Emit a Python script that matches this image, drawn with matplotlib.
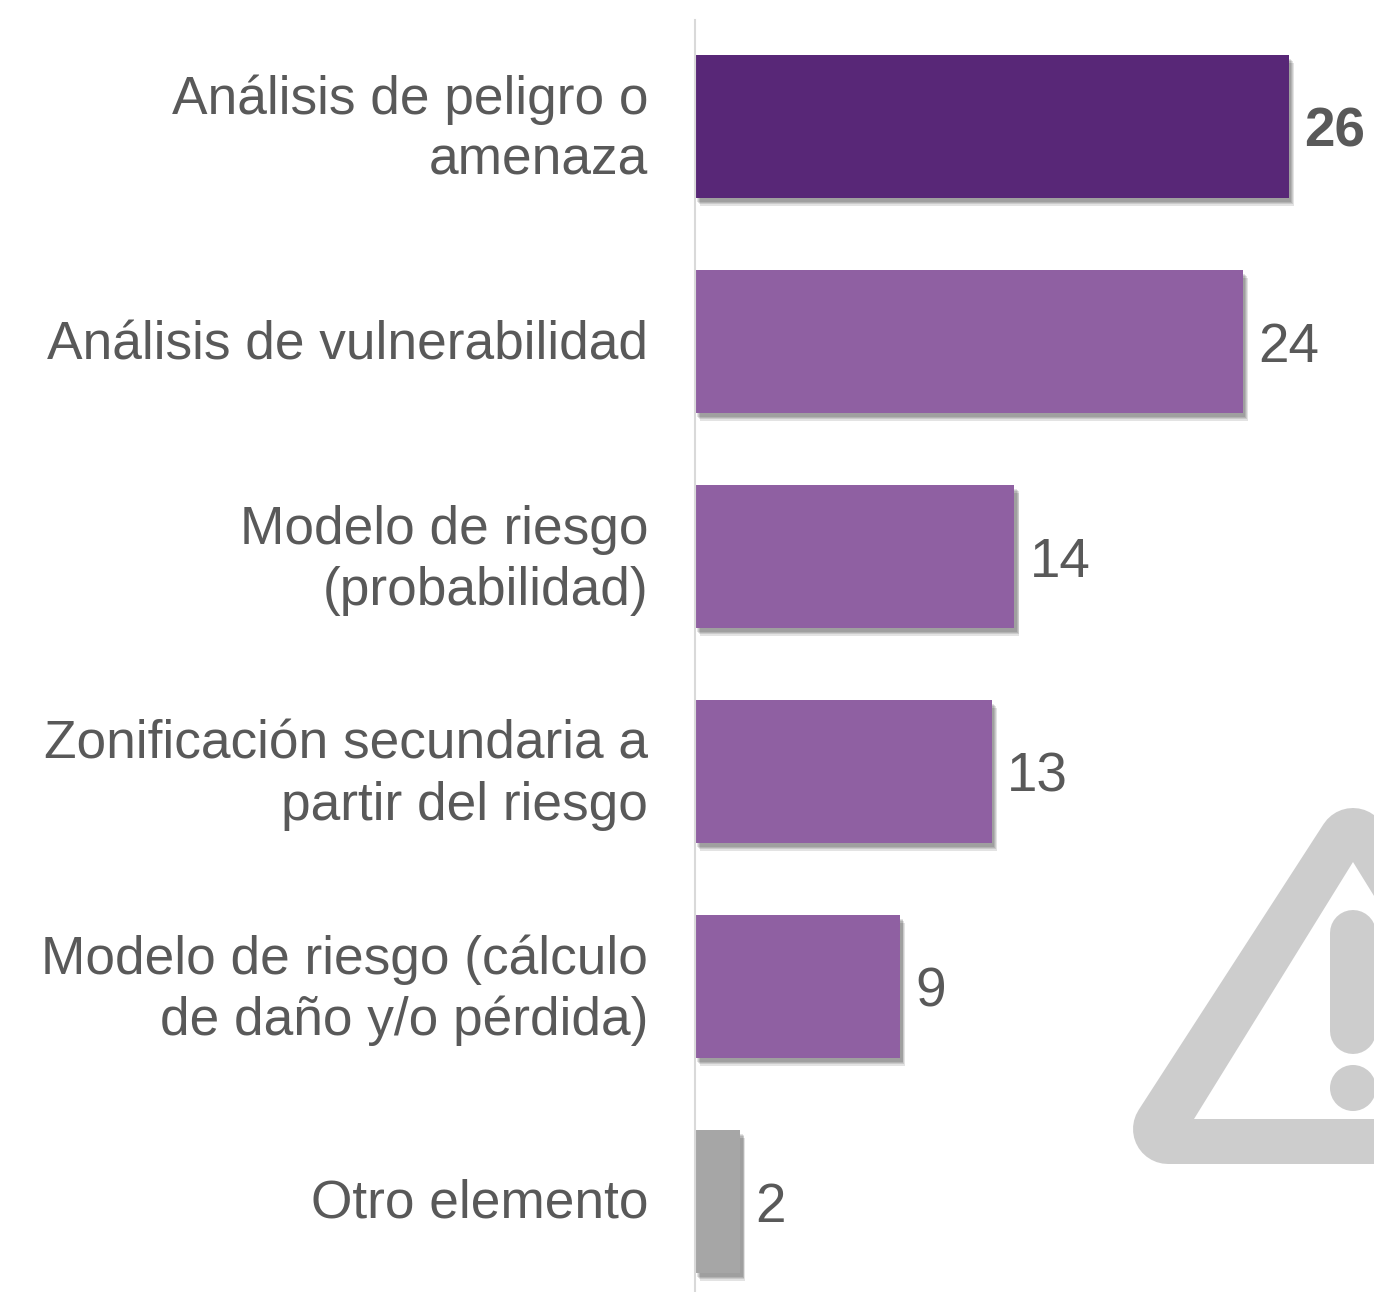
import matplotlib
matplotlib.use("Agg")
import matplotlib.pyplot as plt
import matplotlib.patheffects as pe
from matplotlib.patches import Polygon, Circle
from matplotlib.lines import Line2D
from matplotlib.transforms import ScaledTranslation

categories = ["Análisis de peligro o\namenaza", "Análisis de vulnerabilidad",
              "Modelo de riesgo\n(probabilidad)", "Zonificación secundaria a\npartir del riesgo",
              "Modelo de riesgo (cálculo\nde daño y/o pérdida)", "Otro elemento"]
values = [26, 24, 14, 13, 9, 2]
colors = ["#582777", "#8F60A2", "#8F60A2", "#8F60A2", "#8F60A2", "#A6A6A6"]

W, H = 1374, 1292
plt.rcParams['font.family'] = ['Liberation Sans', 'DejaVu Sans']
fig = plt.figure(figsize=(W/100, H/100), dpi=100)

# warning icon, in pixel coordinates, behind the chart
bg = fig.add_axes([0, 0, 1, 1])
bg.set_xlim(0, W); bg.set_ylim(H, 0); bg.axis("off")
grey = "#CDCDCD"
px = 0.72
bg.add_patch(Polygon([[1353, 843], [1168, 1129], [1538, 1129]], closed=True,
                     fc=grey, ec=grey, lw=70*px, joinstyle="round"))
bg.add_patch(Polygon([[1353, 862], [1194, 1119], [1512, 1119]], closed=True, fc="white", ec="none"))
bg.add_line(Line2D([1353, 1353], [933, 1031], color=grey, lw=46*px, solid_capstyle="round"))
bg.add_patch(Circle((1353, 1088), 23, fc=grey, ec="none"))

left = 694.5
center0 = 126.5
ax = fig.add_axes([left/W, 0, (W-left)/W, 1 - 20/H], facecolor="none")
ax.set_xlim(0, (W-left)/22.85)
ax.set_ylim((H-center0)/215.0, -(center0-20)/215.0)
shadow = [pe.SimplePatchShadow(offset=(ox, -oy), shadow_rgbFace="#000000", alpha=0.11)
          for ox, oy in ((3.6, 5.6), (3.0, 4.6), (2.4, 3.6), (1.8, 2.6))] + [pe.Normal()]
y = list(range(len(values)))
bars = ax.barh(y, values, height=143/215, color=colors, path_effects=shadow)
for i, (v, b) in enumerate(zip(values, bars)):
    ax.annotate(str(v), (v, i), xytext=(15.5, -6), textcoords="offset pixels", ha="left", va="center",
                fontsize=39.5, color="#595959",
                fontweight="bold" if i == 0 else "normal")
ax.set_yticks(y)
ax.set_yticklabels(categories, fontsize=38.32, color="#595959", linespacing=1.28, ha="right")
ax.tick_params(axis="y", length=0, pad=33.3)
for i, (lab, cat) in enumerate(zip(ax.get_yticklabels(), categories)):
    shift = 7.3 if "\n" in cat else (2 if i == 1 else 3.5)
    lab.set_transform(lab.get_transform() + ScaledTranslation(0, shift/100, fig.dpi_scale_trans))
ax.xaxis.set_visible(False)
for s in ["top", "right", "bottom"]:
    ax.spines[s].set_visible(False)
ax.spines["left"].set_color("#D9D9D9")
ax.spines["left"].set_linewidth(1.5)
fig.savefig("out.png", dpi=100)
